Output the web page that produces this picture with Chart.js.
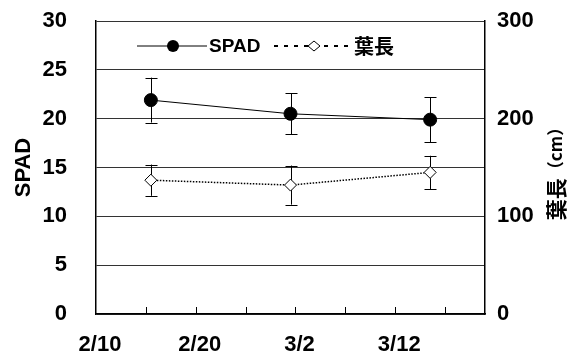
<!DOCTYPE html>
<html>
<head>
<meta charset="utf-8">
<script src="https://cdn.jsdelivr.net/npm/chart.js@4"></script>
<style>
  body { margin: 0; background: #fff; }
  #wrap { width: 576px; height: 358px; }
</style>
</head>
<body>
<div id="wrap"><canvas id="chart"></canvas></div>
<script>
// days after 2/10 (non-leap year)
const days = [5.5, 19.5, 33.5];
const spad = [21.9, 20.5, 19.9];
const spadErr = [2.3, 2.1, 2.3];
const leafLen = [137, 132, 145];
const leafErr = [16, 20, 17];
const spadTicks = [0, 5, 10, 15, 20, 25, 30];
const leafTicks = [0, 100, 200, 300];

const FONT = "'Liberation Sans', Arial, sans-serif";
const CJK = "'Noto Sans CJK JP', sans-serif";

function dateLabel(v) {
    const d = new Date(2010, 1, 10 + v);
    return (d.getMonth() + 1) + "/" + d.getDate();
}

function noPad(s) {
    s.paddingTop = 0;
    s.paddingBottom = 0;
    s.paddingLeft = 0;
    s.paddingRight = 0;
}

const extras = {
    id: "extras",
    beforeDatasetsDraw(chart) {
        // error bars
        const ctx = chart.ctx;
        const x = chart.scales.x;
        ctx.save();
        ctx.strokeStyle = "#000";
        ctx.lineWidth = 1;
        [[spad, spadErr, chart.scales.y], [leafLen, leafErr, chart.scales.y1]].forEach(([vals, errs, sc]) => {
            vals.forEach((v, i) => {
                const px = Math.round(x.getPixelForValue(days[i])) + 0.5;
                const top = sc.getPixelForValue(v + errs[i]);
                const bot = sc.getPixelForValue(v - errs[i]);
                ctx.beginPath();
                ctx.moveTo(px, top); ctx.lineTo(px, bot);
                ctx.moveTo(px - 6, Math.round(top) + 0.5); ctx.lineTo(px + 6, Math.round(top) + 0.5);
                ctx.moveTo(px - 6, Math.round(bot) + 0.5); ctx.lineTo(px + 6, Math.round(bot) + 0.5);
                ctx.stroke();
            });
        });
        ctx.restore();
    },
    afterDraw(chart) {
        const ctx = chart.ctx;
        const a = chart.chartArea;
        const x = chart.scales.x;
        ctx.save();
        // inside tick marks on the date axis
        ctx.strokeStyle = "#000";
        ctx.lineWidth = 1;
        x.ticks.forEach(t => {
            if (t.value % 5 !== 0 || t.value === 0) return;
            const px = Math.round(x.getPixelForValue(t.value)) + 0.5;
            ctx.beginPath();
            ctx.moveTo(px, a.bottom); ctx.lineTo(px, a.bottom - 7);
            ctx.stroke();
        });

        // legend
        const ly = a.top + 25;
        ctx.beginPath();
        ctx.moveTo(a.left + 41, ly); ctx.lineTo(a.left + 111, ly);
        ctx.stroke();
        ctx.fillStyle = "#000";
        ctx.beginPath();
        ctx.arc(a.left + 77, ly, 6, 0, Math.PI * 2);
        ctx.fill();
        ctx.font = "bold 19px " + FONT;
        ctx.textBaseline = "middle";
        ctx.textAlign = "left";
        ctx.fillText("SPAD", a.left + 113, ly + 1);

        ctx.setLineDash([4, 6]);
        ctx.lineWidth = 2;
        ctx.beginPath();
        ctx.moveTo(a.left + 178, ly); ctx.lineTo(a.left + 258, ly);
        ctx.stroke();
        ctx.setLineDash([]);
        ctx.lineWidth = 1;
        const dx = a.left + 218;
        ctx.beginPath();
        ctx.moveTo(dx, ly - 5); ctx.lineTo(dx + 6, ly); ctx.lineTo(dx, ly + 5); ctx.lineTo(dx - 6, ly);
        ctx.closePath();
        ctx.fillStyle = "#fff";
        ctx.fill();
        ctx.stroke();
        ctx.fillStyle = "#000";
        ctx.font = "bold 20px " + CJK;
        ctx.fillText("葉長", a.left + 258, ly);

        // right axis title, reading bottom to top
        ctx.translate(556, (a.top + a.bottom) / 2 + 2);
        ctx.rotate(-Math.PI / 2);
        ctx.font = "bold 21px " + CJK;
        const w1 = ctx.measureText("葉長").width;
        ctx.font = "bold 17px " + CJK;
        const w2 = ctx.measureText("（cm）").width;
        let sx = -(w1 + w2) / 2;
        ctx.font = "bold 21px " + CJK;
        ctx.fillText("葉長", sx, 0);
        ctx.font = "bold 17px " + CJK;
        ctx.fillText("（cm）", sx + w1, 0);
        ctx.restore();
    }
};

new Chart(document.getElementById("chart"), {
    type: "line",
    data: {
        datasets: [
            {
                label: "SPAD",
                data: days.map((d, i) => ({ x: d, y: spad[i] })),
                yAxisID: "y",
                borderColor: "#000",
                borderWidth: 1,
                pointStyle: "circle",
                pointRadius: 6.5,
                pointBackgroundColor: "#000",
                pointBorderColor: "#000",
                tension: 0
            },
            {
                label: "葉長",
                data: days.map((d, i) => ({ x: d, y: leafLen[i] })),
                yAxisID: "y1",
                borderColor: "#000",
                borderWidth: 1.5,
                borderDash: [1.5, 1.5],
                pointStyle: "rectRot",
                pointRadius: 6,
                pointBackgroundColor: "#fff",
                pointBorderColor: "#000",
                pointBorderWidth: 1,
                tension: 0
            }
        ]
    },
    options: {
        responsive: true,
        maintainAspectRatio: false,
        animation: false,
        layout: { padding: { top: 21, left: 0, right: 0, bottom: 0 } },
        plugins: { legend: { display: false }, tooltip: { enabled: false } },
        scales: {
            x: {
                type: "linear",
                min: 0,
                max: 39,
                afterFit: s => { s.height = 44; noPad(s); },
                grid: { display: false, drawTicks: false },
                border: { display: true, color: "#000", width: 1.5 },
                afterBuildTicks: s => { s.ticks = [0, 5, 10, 15, 20, 25, 30, 35].map(v => ({ value: v })); },
                ticks: {
                    autoSkip: false,
                    maxRotation: 0,
                    padding: 18,
                    labelOffset: 4,
                    color: "#000",
                    font: { family: FONT, size: 22, weight: "bold" },
                    callback: v => (v % 10 === 0 ? dateLabel(v) : "")
                }
            },
            y: {
                position: "left",
                min: 0,
                max: 30,
                afterFit: s => { s.width = 96; noPad(s); },
                afterBuildTicks: s => { s.ticks = spadTicks.map(v => ({ value: v })); },
                grid: { color: "#333", lineWidth: 1, drawTicks: false },
                border: { display: true, color: "#000", width: 1.5 },
                ticks: {
                    padding: 29,
                    color: "#000",
                    font: { family: FONT, size: 22, weight: "bold" }
                },
                title: {
                    display: true,
                    text: "SPAD",
                    color: "#000",
                    padding: { top: 11, bottom: 0 },
                    font: { family: FONT, size: 22, weight: "bold" }
                }
            },
            y1: {
                position: "right",
                min: 0,
                max: 300,
                afterFit: s => { s.width = 91; noPad(s); },
                afterBuildTicks: s => { s.ticks = leafTicks.map(v => ({ value: v })); },
                grid: { drawOnChartArea: false, drawTicks: false },
                border: { display: true, color: "#000", width: 1.5 },
                ticks: {
                    padding: 12,
                    color: "#000",
                    font: { family: FONT, size: 22, weight: "bold" }
                }
            }
        }
    },
    plugins: [extras]
});
</script>
</body>
</html>
